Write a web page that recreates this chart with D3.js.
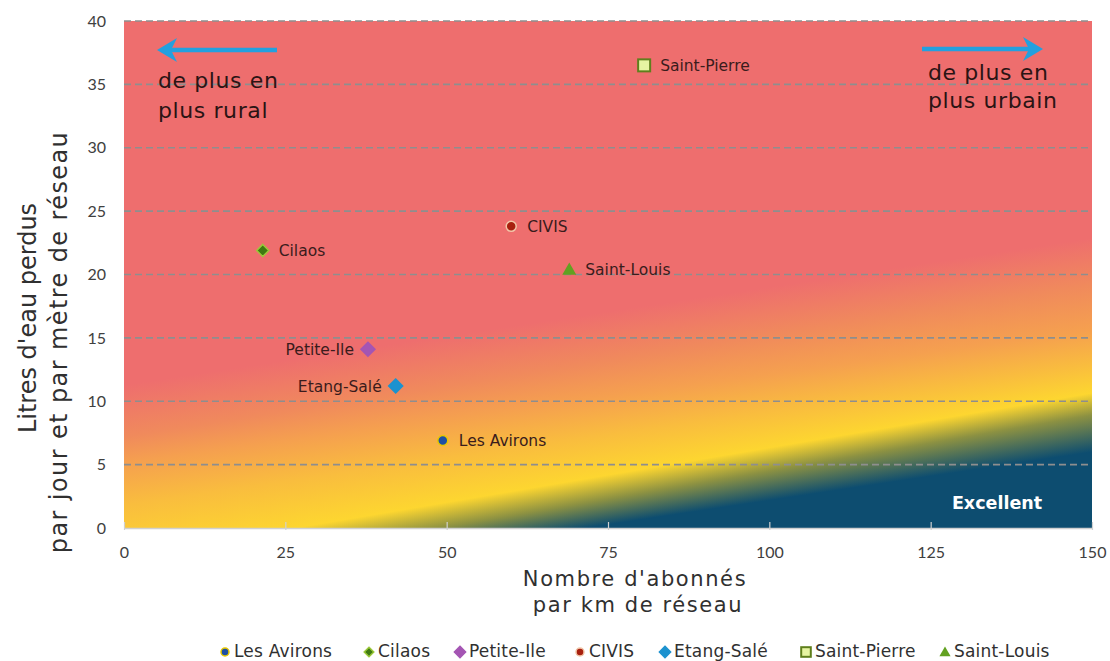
<!DOCTYPE html>
<html><head><meta charset="utf-8">
<script src="https://cdn.jsdelivr.net/npm/d3@7/dist/d3.min.js"></script>
<style>body{margin:0;background:#fff}svg{display:block}</style>
</head><body><svg id="c" width="1110" height="661"></svg>
<script>
const names = ["Les Avirons","Cilaos","Petite-Ile","CIVIS","Etang-Salé","Saint-Pierre","Saint-Louis"];
const xVals = [49.4, 21.5, 37.8, 60.0, 42.1, 80.6, 69.0];
const yVals = [6.9, 21.9, 14.1, 23.8, 11.2, 36.5, 20.4];
const xTicks = [0,25,50,75,100,125,150];
const yTicks = [0,5,10,15,20,25,30,35,40];
const labelSide = ["right","right","left","right","left","right","right"];

const svg = d3.select("#c");
const L=124, R=1092, T=21, B=528;
const x = d3.scaleLinear().domain([0,150]).range([L,R]);
const y = d3.scaleLinear().domain([0,40]).range([B,T]);

// background: colour bands whose iso-lines fan out from right to left
const bands = [ // [colour, pixel y at left edge, pixel y at right edge]
  ["#ee6e6e", 385, 238],
  ["#f08a5c", 437, 285],
  ["#f5a04f", 463, 330],
  ["#f9bd3e", 505, 365],
  ["#fdd630", 557, 393],
  ["#8c9142", 583, 415],
  ["#0d4d70", 597, 452]
];
const defs = svg.append("defs");
const bgG = svg.append("g");
const gy1 = 180, gy2 = 640;
const step = 2;
for (let xx = L, k = 0; xx < R; xx += step, k++) {
  const f = (xx + step/2 - L) / (R - L);
  const gr = defs.append("linearGradient").attr("id","bg"+k).attr("gradientUnits","userSpaceOnUse")
    .attr("x1",0).attr("x2",0).attr("y1",gy1).attr("y2",gy2);
  bands.forEach(b=>{
    const yy = b[1] + (b[2]-b[1])*f;
    gr.append("stop").attr("offset",(yy-gy1)/(gy2-gy1)).attr("stop-color",b[0]);
  });
  bgG.append("rect").attr("x",xx).attr("y",T).attr("width",Math.min(step, R-xx)).attr("height",B-T).attr("fill","url(#bg"+k+")");
}

// gridlines
svg.append("g").selectAll("line").data(yTicks.filter(d=>d>0)).join("line")
  .attr("x1",L).attr("x2",R).attr("y1",d=>y(d)).attr("y2",d=>y(d))
  .attr("stroke","#8e8e8e").attr("stroke-width",1.6).attr("stroke-dasharray","7,4");

// axes
const xa = svg.append("g").attr("transform",`translate(0,${B})`)
  .call(d3.axisBottom(x).tickValues(xTicks).tickSize(0).tickPadding(19));
xa.select(".domain").attr("stroke","#d0d0d0").attr("stroke-width",1.5);
xa.selectAll(".tick text").attr("font-family","Lato").attr("font-size",16).attr("fill","#404040");
xa.selectAll(".tick").append("line").attr("y1",-6).attr("y2",2).attr("stroke","#d0d0d0").attr("stroke-width",1.2);
const ya = svg.append("g").attr("transform",`translate(${L},0)`)
  .call(d3.axisLeft(y).tickValues(yTicks).tickSize(0).tickPadding(18));
ya.select(".domain").remove();
ya.selectAll(".tick text").attr("font-family","Lato").attr("font-size",16).attr("fill","#404040");

// axis titles
const tf = "'DejaVu Sans', sans-serif";
const xt = svg.append("text").attr("text-anchor","middle").attr("font-family",tf).attr("font-size",21)
  .attr("letter-spacing",1.6).attr("fill","#303030");
xt.append("tspan").attr("x",635).attr("y",586).text("Nombre d'abonnés");
xt.append("tspan").attr("x",638).attr("y",612).text("par km de réseau");
svg.append("text").attr("text-anchor","middle").attr("font-family",tf).attr("font-size",24).attr("fill","#303030")
  .attr("letter-spacing",0).attr("transform","translate(36,318) rotate(-90)").text("Litres d'eau perdus");
svg.append("text").attr("text-anchor","middle").attr("font-family",tf).attr("font-size",24).attr("fill","#303030")
  .attr("letter-spacing",1.4).attr("transform","translate(67,342) rotate(-90)").text("par jour et par mètre de réseau");

// arrows
const arrowCol = "#23a0df";
function arrow(x1,x2,yy){
  const dir = Math.sign(x2-x1);
  svg.append("line").attr("x1",x1).attr("x2",x2-dir*14).attr("y1",yy).attr("y2",yy)
    .attr("stroke",arrowCol).attr("stroke-width",4.5);
  svg.append("path").attr("d",`M${x2},${yy} L${x2-dir*20},${yy-12} L${x2-dir*14},${yy} L${x2-dir*20},${yy+12} Z`).attr("fill",arrowCol);
}
arrow(277,157,50);
arrow(922,1043,49);
const af = "'DejaVu Sans', sans-serif";
const lt = svg.append("text").attr("font-family",af).attr("font-size",22).attr("letter-spacing",0.6).attr("fill","#2a1414");
lt.append("tspan").attr("x",158).attr("y",88).text("de plus en");
lt.append("tspan").attr("x",158).attr("y",118).text("plus rural");
const rt = svg.append("text").attr("font-family",af).attr("font-size",22).attr("letter-spacing",0.6).attr("fill","#2a1414");
rt.append("tspan").attr("x",928).attr("y",80).text("de plus en");
rt.append("tspan").attr("x",928).attr("y",108).text("plus urbain");

// markers
const mk = [
  {type:"circle", fill:"#1e4fa3", stroke:"#e8c800", size:5},
  {type:"diamond", fill:"#3f7a12", stroke:"#9bc93a", size:6},
  {type:"diamond", fill:"#a455b3", stroke:"#a455b3", size:7},
  {type:"circle", fill:"#a8200f", stroke:"#f2c6a8", size:5},
  {type:"diamond", fill:"#1c92cf", stroke:"#1c92cf", size:7},
  {type:"square", fill:"#e6f4a2", stroke:"#5f7f1c", size:6},
  {type:"triangle", fill:"#62a121", stroke:"#62a121", size:7}
];
function drawMarker(sel, m, cx, cy, scale){
  const s = m.size*scale;
  if(m.type==="circle") sel.append("circle").attr("cx",cx).attr("cy",cy).attr("r",s).attr("fill",m.fill).attr("stroke",m.stroke).attr("stroke-width",1.5);
  else if(m.type==="diamond") sel.append("path").attr("d",`M${cx},${cy-s} L${cx+s},${cy} L${cx},${cy+s} L${cx-s},${cy} Z`).attr("fill",m.fill).attr("stroke",m.stroke).attr("stroke-width",1.5);
  else if(m.type==="square") sel.append("rect").attr("x",cx-s).attr("y",cy-s).attr("width",2*s).attr("height",2*s).attr("fill",m.fill).attr("stroke",m.stroke).attr("stroke-width",2);
  else sel.append("path").attr("d",`M${cx},${cy-s} L${cx+s},${cy+s*0.75} L${cx-s},${cy+s*0.75} Z`).attr("fill",m.fill);
}
const pts = svg.append("g");
names.forEach((n,i)=>{
  const cx=x(xVals[i]), cy=y(yVals[i]);
  drawMarker(pts, mk[i], cx, cy, 1);
  const right = labelSide[i]==="right";
  pts.append("text").attr("x", right? cx+16 : cx-14).attr("y",cy+5.5)
    .attr("text-anchor", right?"start":"end").attr("font-family",af).attr("font-size",15.5).attr("fill","#3a1c1c").text(n);
});

// Excellent
svg.append("text").attr("x",997).attr("y",509).attr("text-anchor","middle").attr("font-family","'DejaVu Sans', sans-serif")
  .attr("font-weight","bold").attr("font-size",17.5).attr("fill","#ffffff").text("Excellent");

// legend
const legX = [225,369,460,580,665,806,945];
const lg = svg.append("g");
names.forEach((n,i)=>{
  drawMarker(lg, mk[i], legX[i], 652, 0.8);
  lg.append("text").attr("x",legX[i]+9).attr("y",657).attr("font-family",af).attr("font-size",17).attr("letter-spacing",0.2).attr("fill","#303030").text(n);
});
</script></body></html>
